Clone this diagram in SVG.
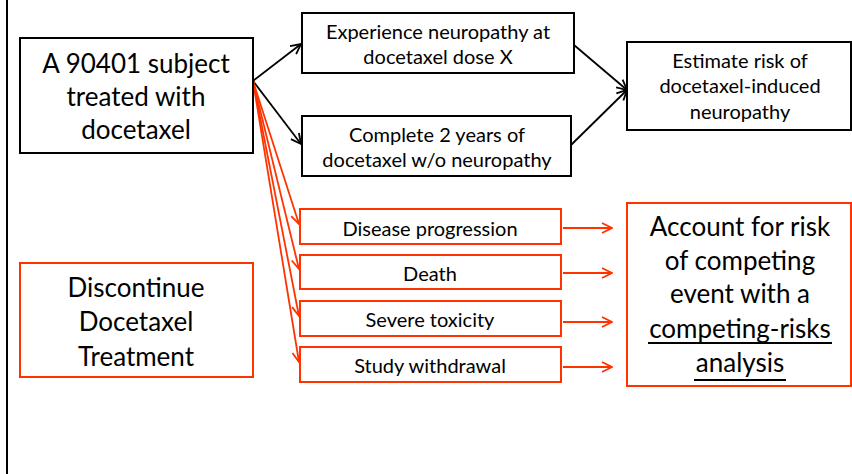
<svg xmlns="http://www.w3.org/2000/svg" width="852" height="474" viewBox="0 0 852 474">
<defs>
<style>
.bk{fill:#fff;stroke:#000;stroke-width:2}
.rd{fill:#fff;stroke:#ff3300;stroke-width:2}
.t{font-family:Lato,"Open Sans","Liberation Sans",sans-serif;fill:#000;text-anchor:middle}
.big{font-size:26px}
.sm{font-size:20px}
.cb{stroke:#000;stroke-width:1.8;fill:none;marker-end:url(#ab)}
.cr{stroke:#ff3300;stroke-width:1.8;fill:none;marker-end:url(#ar)}
</style>
<marker id="ab" markerUnits="userSpaceOnUse" viewBox="0 0 12 12" markerWidth="12" markerHeight="12" refX="11" refY="6" orient="auto">
<path d="M1,1 L11,6 L1,11" fill="none" stroke="#000" stroke-width="1.8"/>
</marker>
<marker id="ar" markerUnits="userSpaceOnUse" viewBox="0 0 12 12" markerWidth="12" markerHeight="12" refX="11" refY="6" orient="auto">
<path d="M1,1 L11,6 L1,11" fill="none" stroke="#ff3300" stroke-width="1.8"/>
</marker>
</defs>
<rect width="852" height="474" fill="#fff"/>
<line x1="7" y1="0" x2="7" y2="474" stroke="#000" stroke-width="2"/>
<g id="connectors">
<path class="cb" d="M253,81 L301,44"/>
<path class="cb" d="M253,81 L301,144"/>
<path class="cb" d="M574,45 L627,90"/>
<path class="cb" d="M571,145 L627,90"/>
<path class="cr" d="M253,81 L299,224"/>
<path class="cr" d="M253,81 L299,269"/>
<path class="cr" d="M253,81 L299,316"/>
<path class="cr" d="M253,81 L299,362"/>
<path class="cr" d="M563,228 L612,228"/>
<path class="cr" d="M563,273 L612,273"/>
<path class="cr" d="M563,322 L612,322"/>
<path class="cr" d="M563,367 L612,367"/>
</g>
<g id="subject">
<rect class="bk" x="20" y="38" width="233" height="115"/>
<text class="t big" x="136" y="73">A 90401 subject</text>
<text class="t big" x="136" y="106">treated with</text>
<text class="t big" x="136" y="139">docetaxel</text>
</g>
<g id="experience">
<rect class="bk" x="302" y="13" width="272" height="60"/>
<text class="t sm" x="438" y="39">Experience neuropathy at</text>
<text class="t sm" x="438" y="64">docetaxel dose X</text>
</g>
<g id="complete">
<rect class="bk" x="302" y="116" width="269" height="60"/>
<text class="t sm" x="437" y="142">Complete 2 years of</text>
<text class="t sm" x="437" y="167">docetaxel w/o neuropathy</text>
</g>
<g id="estimate">
<rect class="bk" x="627" y="42" width="224" height="88"/>
<text class="t sm" x="740" y="68">Estimate risk of</text>
<text class="t sm" x="740" y="93">docetaxel-induced</text>
<text class="t sm" x="740" y="119">neuropathy</text>
</g>
<g id="discontinue">
<rect class="rd" x="20" y="263" width="233" height="114"/>
<text class="t big" x="136" y="297">Discontinue</text>
<text class="t big" x="136" y="331">Docetaxel</text>
<text class="t big" x="136" y="366">Treatment</text>
</g>
<g id="progression">
<rect class="rd" x="300" y="209" width="261" height="35"/>
<text class="t sm" x="430" y="236">Disease progression</text>
</g>
<g id="death">
<rect class="rd" x="300" y="255" width="261" height="34"/>
<text class="t sm" x="430" y="281">Death</text>
</g>
<g id="toxicity">
<rect class="rd" x="300" y="301" width="261" height="35"/>
<text class="t sm" x="430" y="327">Severe toxicity</text>
</g>
<g id="withdrawal">
<rect class="rd" x="300" y="347" width="261" height="35"/>
<text class="t sm" x="430" y="373">Study withdrawal</text>
</g>
<g id="account">
<rect class="rd" x="627" y="203" width="224" height="183"/>
<text class="t big" x="740" y="236">Account for risk</text>
<text class="t big" x="740" y="270">of competing</text>
<text class="t big" x="740" y="303">event with a</text>
<text class="t big" x="740" y="338">competing-risks</text>
<text class="t big" x="740" y="372">analysis</text>
<line x1="648" y1="343" x2="832" y2="343" stroke="#000" stroke-width="2"/>
<line x1="694" y1="380" x2="786" y2="380" stroke="#000" stroke-width="2"/>
</g>
</svg>
